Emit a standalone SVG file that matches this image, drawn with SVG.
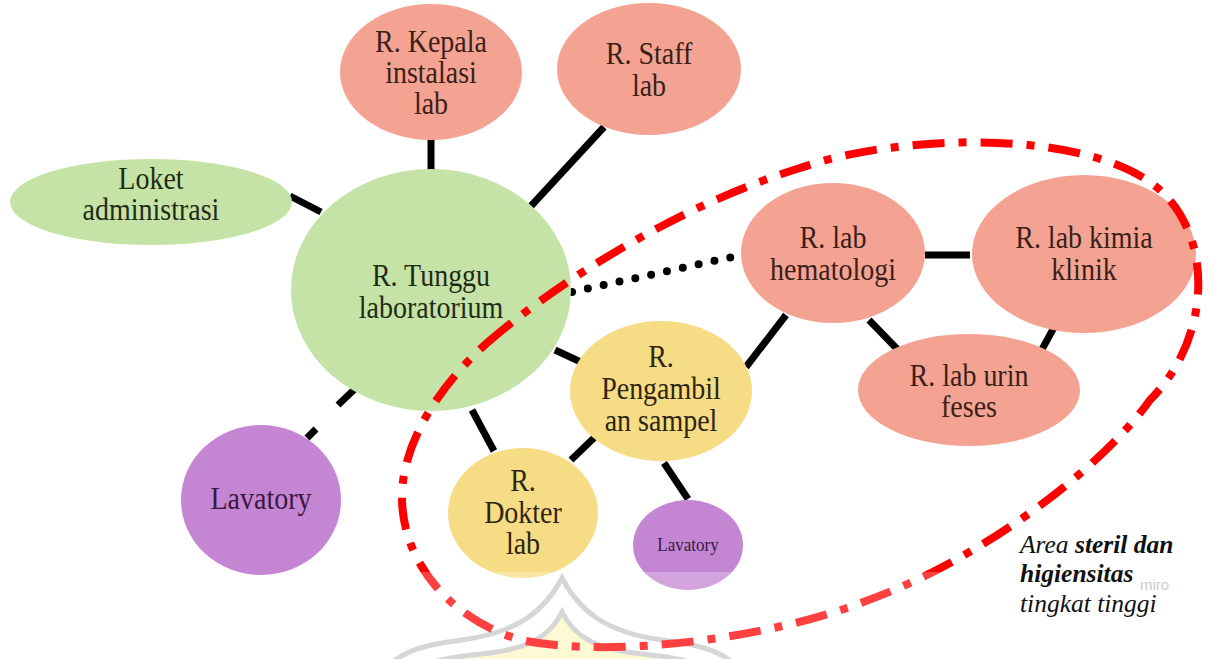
<svg xmlns="http://www.w3.org/2000/svg" width="1211" height="659" viewBox="0 0 1211 659">
  <style>
    .lbl { font-family: "Liberation Serif", "Times New Roman", serif; font-size: 32px; text-anchor: middle; }
    .salmon { fill: #f4a393; }
    .green { fill: #c6e3a7; }
    .yellow { fill: #f7dc86; }
    .purple { fill: #c485d3; }
    .t-salmon { fill: #3b1f19; }
    .t-green { fill: #1f2b16; }
    .t-yellow { fill: #2e2610; }
    .t-purple { fill: #3a1840; }
    .link { stroke: #000; stroke-width: 7; fill: none; }
    .note { font-family: "Liberation Serif", "Times New Roman", serif; font-size: 25.5px; font-style: italic; fill: #111; }
  </style>

  <rect width="1211" height="659" fill="#fff"/>

  <!-- emblem outline at the bottom edge -->
  <g id="emblem">
    <path d="M 415,672 C 430,660 450,657 482,654 C 530,649 550,636 562,612 C 574,636 594,649 642,654 C 676,657 698,662 712,672 Z" fill="#fcf7c6"/>
    <path d="M 388,668 C 400,652 422,645 462,640 C 520,632 545,610 562,578 C 579,610 604,632 662,640 C 702,645 724,652 738,668" fill="none" stroke="#c9c9c9" stroke-width="5"/>
    <path d="M 415,672 C 430,660 450,657 482,654 C 530,649 550,636 562,612 C 574,636 594,649 642,654 C 676,657 698,662 712,672" fill="none" stroke="#c9c9c9" stroke-width="5"/>
  </g>

  <!-- connectors -->
  <g id="connectors">
    <line class="link" x1="431" y1="139" x2="431" y2="171"/>
    <line class="link" x1="604" y1="127" x2="531" y2="206"/>
    <line class="link" x1="290" y1="196" x2="321" y2="212"/>
    <line class="link" x1="361" y1="383" x2="338" y2="405"/>
    <line class="link" x1="316" y1="429" x2="307" y2="438"/>
    <line class="link" x1="555" y1="350" x2="583" y2="363"/>
    <line class="link" x1="472" y1="410" x2="494" y2="451"/>
    <line class="link" x1="597" y1="435" x2="571" y2="460"/>
    <line class="link" x1="664" y1="463" x2="688" y2="499"/>
    <line class="link" x1="746" y1="367" x2="786" y2="315"/>
    <line class="link" x1="925" y1="255" x2="970" y2="255"/>
    <line class="link" x1="869" y1="320" x2="901" y2="353"/>
    <line class="link" x1="1069" y1="300" x2="1040" y2="353"/>
    <line x1="572" y1="292" x2="732" y2="257" stroke="#000" stroke-width="8" stroke-linecap="round" stroke-dasharray="0 16.2"/>
  </g>

  <!-- rooms -->
  <g id="kepala">
    <ellipse class="salmon" cx="431" cy="72" rx="91" ry="68"/>
    <text class="lbl t-salmon" transform="translate(431,52) scale(0.875,1)">R. Kepala</text>
    <text class="lbl t-salmon" transform="translate(431,83) scale(0.875,1)">instalasi</text>
    <text class="lbl t-salmon" transform="translate(431,114) scale(0.875,1)">lab</text>
  </g>
  <g id="staff">
    <ellipse class="salmon" cx="649" cy="69" rx="92" ry="66"/>
    <text class="lbl t-salmon" transform="translate(649,64) scale(0.875,1)">R. Staff</text>
    <text class="lbl t-salmon" transform="translate(649,96) scale(0.875,1)">lab</text>
  </g>
  <g id="loket">
    <ellipse class="green" cx="151" cy="202" rx="141" ry="43"/>
    <text class="lbl t-green" transform="translate(151,189) scale(0.875,1)">Loket</text>
    <text class="lbl t-green" transform="translate(151,220) scale(0.875,1)">administrasi</text>
  </g>
  <g id="tunggu">
    <ellipse class="green" cx="431" cy="290" rx="140" ry="121"/>
    <text class="lbl t-green" transform="translate(431,286) scale(0.875,1)">R. Tunggu</text>
    <text class="lbl t-green" transform="translate(431,318) scale(0.875,1)">laboratorium</text>
  </g>
  <g id="hematologi">
    <ellipse class="salmon" cx="833" cy="253" rx="92" ry="70"/>
    <text class="lbl t-salmon" transform="translate(833,248) scale(0.875,1)">R. lab</text>
    <text class="lbl t-salmon" transform="translate(833,280) scale(0.875,1)">hematologi</text>
  </g>
  <g id="kimia">
    <ellipse class="salmon" cx="1084" cy="254" rx="112" ry="79"/>
    <text class="lbl t-salmon" transform="translate(1084,248) scale(0.875,1)">R. lab kimia</text>
    <text class="lbl t-salmon" transform="translate(1084,280) scale(0.875,1)">klinik</text>
  </g>
  <g id="urin">
    <ellipse class="salmon" cx="969" cy="390" rx="111" ry="56"/>
    <text class="lbl t-salmon" transform="translate(969,386) scale(0.875,1)">R. lab urin</text>
    <text class="lbl t-salmon" transform="translate(969,417) scale(0.875,1)">feses</text>
  </g>
  <g id="pengambilan">
    <ellipse class="yellow" cx="661" cy="391" rx="91" ry="70"/>
    <text class="lbl t-yellow" transform="translate(661,367) scale(0.875,1)">R.</text>
    <text class="lbl t-yellow" transform="translate(661,399) scale(0.875,1)">Pengambil</text>
    <text class="lbl t-yellow" transform="translate(661,431) scale(0.875,1)">an sampel</text>
  </g>
  <g id="dokter">
    <ellipse class="yellow" cx="523" cy="513" rx="75" ry="65"/>
    <text class="lbl t-yellow" transform="translate(523,491) scale(0.875,1)">R.</text>
    <text class="lbl t-yellow" transform="translate(523,523) scale(0.875,1)">Dokter</text>
    <text class="lbl t-yellow" transform="translate(523,554) scale(0.875,1)">lab</text>
  </g>
  <g id="lavatory-1">
    <ellipse class="purple" cx="261" cy="500" rx="80" ry="75"/>
    <text class="lbl t-purple" transform="translate(261,509) scale(0.875,1)">Lavatory</text>
  </g>
  <g id="lavatory-2">
    <ellipse class="purple" cx="688" cy="545" rx="55" ry="45"/>
    <text class="lbl t-purple" transform="translate(688,551) scale(0.875,1)" style="font-size:19.5px">Lavatory</text>
  </g>

  <!-- boundary of the sterile zone -->
  <g id="sterile-zone">
    <path d="M 487,343 C 560,280 680,205 800,168 C 900,133 1090,128 1160,190 C 1215,240 1210,340 1150,400 C 1100,470 980,560 866,601 C 780,635 620,660 521,640 C 450,620 400,560 402,493 C 404,440 440,385 487,343 Z" fill="none" stroke="#ff0000" stroke-width="8" stroke-dasharray="32 14 8 14"/>
  </g>

  <!-- faded strip over the lower edge -->
  <rect x="380" y="572" width="580" height="87" fill="#fff" opacity="0.25"/>

  <g id="caption">
    <text class="note" x="1020" y="553">Area <tspan font-weight="bold">steril dan</tspan></text>
    <text class="note" x="1020" y="582" font-weight="bold">higiensitas</text>
    <text x="1140" y="590" font-family="Liberation Sans, Arial, sans-serif" font-size="15" fill="#cccccc">miro</text>
    <text class="note" x="1020" y="612">tingkat tinggi</text>
  </g>
</svg>
